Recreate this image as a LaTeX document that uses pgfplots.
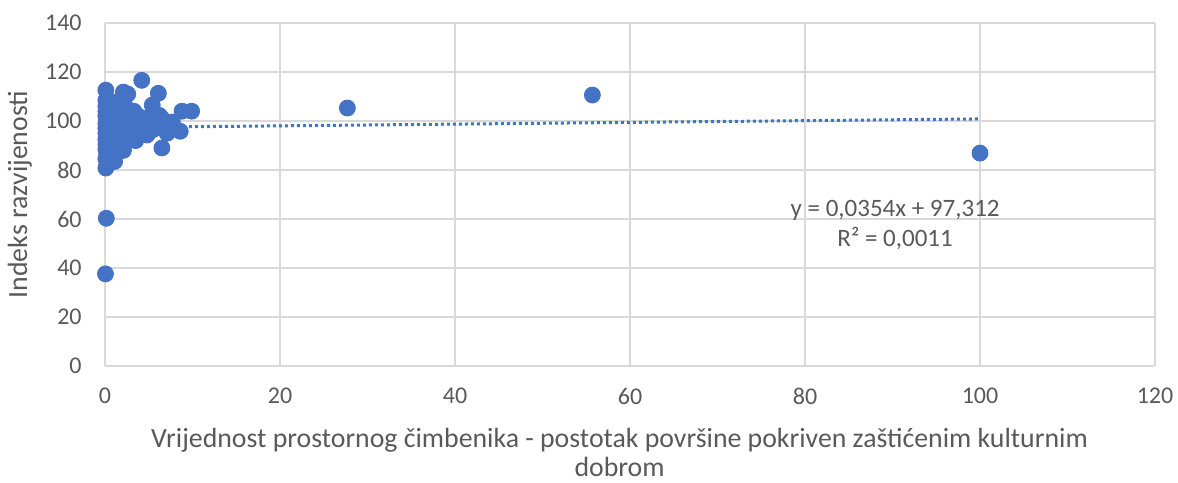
\documentclass[border=0pt]{standalone}
\usepackage{fontspec}
\setmainfont{Carlito}
\usepackage{pgfplots}
\pgfplotsset{compat=1.18}
\definecolor{xlblue}{RGB}{68,114,196}
\definecolor{xlgrid}{RGB}{217,217,217}
\definecolor{xltext}{RGB}{89,89,89}
\begin{document}
\begin{tikzpicture}
\begin{axis}[
  name=ax,
  scale only axis,
  width=525pt, height=171.5pt,
  xmin=0, xmax=120, ymin=0, ymax=140,
  xtick={0,20,...,120}, ytick={0,20,...,140},
  axis line style={draw=none},
  separate axis lines,
  axis x line*=bottom, axis y line*=left,
  grid=major,
  grid style={xlgrid, line width=1pt},
  major tick length=0pt,
  tick style={draw=none},
  /pgf/number format/assume math mode=true,
  ticklabel style={font=\fontsize{12}{14}\selectfont, text=xltext},
  yticklabel style={anchor=east, inner sep=0pt, xshift=-11.5pt},
  xticklabel style={anchor=north, inner sep=0pt, yshift=-11pt},
  xlabel={Vrijednost prostornog čimbenika - postotak površine pokriven zaštićenim kulturnim\\dobrom},
  xlabel style={at={(axis description cs:0.49,0)}, anchor=north, yshift=-31pt, align=center, font=\fontsize{13.9}{14.5}\selectfont, text=xltext, inner sep=0pt},
  ylabel={Indeks razvijenosti},
  ylabel style={at={(axis description cs:-0.081,0.5)}, anchor=center, font=\fontsize{13.9}{14.5}\selectfont, text=xltext, inner sep=0pt},
  clip=false,
]
\addplot[only marks, mark=*, mark size=4pt, mark options={draw=xlblue, fill=xlblue}] coordinates {
(0.05,37.6)(0.15,60.3)(0.1,80.8)(0.3,82.5)(1.1,83.5)(0.1,84.5)(0.5,85.5)(0.2,86.5)(0.8,87)(1.5,87.5)
(2.1,88)(0.1,88.5)(0.4,89)(1.2,89.5)(0.7,90)(0.1,90.5)(1.8,90.5)(0.3,91)(2.5,91.5)(0.9,92)
(0.1,92.5)(1.4,92.5)(2.9,93)(0.5,93.5)(0.2,94)(1.0,94)(2.0,94.5)(4.8,94.3)(0.1,95)(0.6,95.5)
(1.6,95.5)(3.2,95.5)(7.1,95)(8.6,95.8)(0.3,96)(1.1,96.5)(2.4,96.5)(4.0,96)(5.5,96.5)(0.1,97)
(0.8,97.5)(1.9,97.5)(3.5,97.5)(6.0,97.8)(0.4,98)(1.3,98.5)(2.7,98.5)(0.1,99)(0.9,99)(2.2,99.5)
(4.5,99)(7.7,99.6)(0.5,100)(1.7,100)(3.0,100.5)(5.0,100.5)(6.5,101)(0.2,101)(1.0,101.5)(2.5,101.5)
(0.1,102)(0.7,102.5)(1.5,102.5)(3.8,102)(6.2,102.3)(0.3,103)(1.2,103.5)(2.8,103.5)(0.1,104)(0.6,104.5)
(2.0,104.5)(8.8,104)(9.9,104)(0.2,105)(1.0,105.5)(2.4,105.5)(5.4,106.5)(0.1,106)(0.5,106.5)(1.4,106.8)
(0.2,107.5)(0.8,107.8)(0.1,108.5)(1.6,108)(0.1,112.6)(2.1,111.8)(2.6,111)(4.2,116.6)(6.1,111.3)(6.5,89)
(3.5,92)(4.3,98)(5.8,99)(3.3,104)(4.6,101)(1.8,93)(2.3,97)(0.4,84)(1.0,86)(3.0,98.5)
(27.7,105.3)(55.7,110.6)(100,86.9)
};
\addplot[xlblue, line width=1.5pt, dash pattern=on 1.5pt off 1.5pt] coordinates {(0,97.312)(100,100.852)};
\node[align=center, font=\fontsize{12.5}{15}\selectfont, text=xltext] at (axis cs:90.3,57.5) {y = 0,0354x + 97,312\\R² = 0,0011};
\end{axis}
\pgfresetboundingbox
\path ([shift={(-52.5pt,-58pt)}]ax.south west) rectangle ([shift={(11.5pt,11.5pt)}]ax.north east);
\end{tikzpicture}
\end{document}
